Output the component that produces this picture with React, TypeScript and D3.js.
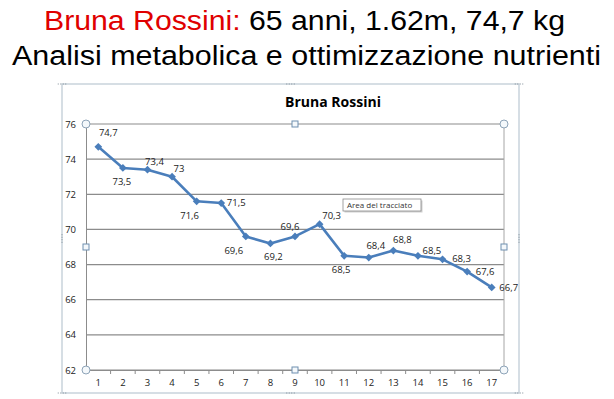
import { useEffect, useRef } from "react"
import * as d3 from "d3"

// weekly weigh-ins
const sessions = ["1", "2", "3", "4", "5", "6", "7", "8", "9", "10", "11", "12", "13", "14", "15", "16", "17"]
const weights = [74.7, 73.5, 73.4, 73, 71.6, 71.5, 69.6, 69.2, 69.6, 70.3, 68.5, 68.4, 68.8, 68.5, 68.3, 67.6, 66.7]
const yTicks = [62, 64, 66, 68, 70, 72, 74, 76]

// where Excel put each data label, relative to its point
const labelShift = [
  [10, -14], [-1, 14], [7, -8], [7, -8], [-7, 14], [15, 0], [-12, 14], [3, 13], [-5, -10],
  [12, -8], [-3, 14], [7, -12], [9, -11], [14, -5], [19, -1], [18, 0], [17, 0],
]

const W = 614
const H = 399
const font = "'Liberation Sans', Arial, sans-serif"
const labelFont = "'Open Sans', 'Liberation Sans', sans-serif"

const App = () => {
  const svgRef = useRef<SVGSVGElement>(null)

  useEffect(() => {
    const svg = d3.select(svgRef.current)
    svg.selectAll("*").remove()

    // slide heading
    const h1 = svg.append("text")
      .attr("x", 44).attr("y", 30)
      .attr("textLength", 521).attr("lengthAdjust", "spacingAndGlyphs")
      .style("font-family", font).style("font-size", "27px")
    h1.append("tspan").attr("fill", "#e00000").text("Bruna Rossini:")
    h1.append("tspan").attr("fill", "#000").text(" 65 anni, 1.62m, 74,7 kg")

    svg.append("text")
      .attr("x", 12).attr("y", 65)
      .attr("textLength", 589).attr("lengthAdjust", "spacingAndGlyphs")
      .style("font-family", font).style("font-size", "27px")
      .attr("fill", "#000")
      .text("Analisi metabolica e ottimizzazione nutrienti")

    // chart area frame
    const frame = { left: 62, top: 84, right: 519, bottom: 393 }
    svg.append("rect")
      .attr("x", frame.left).attr("y", frame.top)
      .attr("width", frame.right - frame.left).attr("height", frame.bottom - frame.top)
      .attr("fill", "#fff").attr("stroke", "#c9d3dc").attr("stroke-width", 1.5)

    const dots = [
      [frame.left, frame.top], [(frame.left + frame.right) / 2, frame.top], [frame.right, frame.top],
      [frame.left, (frame.top + frame.bottom) / 2], [frame.right, (frame.top + frame.bottom) / 2],
      [frame.left, frame.bottom], [(frame.left + frame.right) / 2, frame.bottom], [frame.right, frame.bottom],
    ]
    dots.forEach(([cx, cy]) => {
      for (let i = -1.5; i <= 1.5; i++) {
        const horiz = cy === frame.top || cy === frame.bottom
        svg.append("rect")
          .attr("x", horiz ? cx + i * 2.5 - 0.5 : cx - 0.5)
          .attr("y", horiz ? cy - 0.5 : cy + i * 2.5 - 0.5)
          .attr("width", 1).attr("height", 1)
          .attr("fill", "#7f8c99")
      }
    })

    svg.append("text")
      .attr("x", 333).attr("y", 107)
      .attr("text-anchor", "middle")
      .style("font-family", labelFont).style("font-size", "14px").style("font-weight", "bold")
      .attr("fill", "#000")
      .text("Bruna Rossini")

    const plot = { left: 86, top: 124, right: 504, bottom: 370 }
    const x = d3.scaleBand().domain(sessions).range([plot.left, plot.right]).padding(0)
    const y = d3.scaleLinear().domain([62, 76]).range([plot.bottom, plot.top])
    const cx = (s: string) => (x(s) ?? 0) + x.bandwidth() / 2

    // gridlines
    svg.append("g")
      .selectAll("line")
      .data(yTicks)
      .join("line")
      .attr("x1", plot.left).attr("x2", plot.right)
      .attr("y1", (d) => y(d)).attr("y2", (d) => y(d))
      .attr("stroke", "#8c8c8c").attr("stroke-width", 1.2)

    // right edge of plot area
    svg.append("line")
      .attr("x1", plot.right).attr("x2", plot.right)
      .attr("y1", plot.top).attr("y2", plot.bottom)
      .attr("stroke", "#a6a6a6").attr("stroke-width", 1)

    // y axis
    const yAxis = svg.append("g")
      .attr("transform", `translate(${plot.left},0)`)
      .call(d3.axisLeft(y).tickValues(yTicks).tickSize(0).tickPadding(10))
    yAxis.select(".domain").attr("stroke", "#8c8c8c")
    yAxis.selectAll("text")
      .style("font-family", labelFont).style("font-size", "9.5px").attr("fill", "#222")

    // x axis
    const xAxis = svg.append("g")
      .attr("transform", `translate(0,${plot.bottom})`)
      .call(d3.axisBottom(x).tickSize(0).tickPadding(9))
    xAxis.select(".domain").attr("stroke", "#8c8c8c")
    xAxis.selectAll("text")
      .style("font-family", labelFont).style("font-size", "9.5px").attr("fill", "#222")
    xAxis.selectAll("line.sep")
      .data(sessions)
      .join("line")
      .attr("class", "sep")
      .attr("x1", (d, i) => plot.left + (i + 1) * x.bandwidth())
      .attr("x2", (d, i) => plot.left + (i + 1) * x.bandwidth())
      .attr("y1", 0).attr("y2", 4)
      .attr("stroke", "#8c8c8c")

    // series
    const pts = weights.map((v, i) => ({ s: sessions[i], v, i }))
    const line = d3.line<{ s: string; v: number }>().x((d) => cx(d.s)).y((d) => y(d.v))
    svg.append("path")
      .datum(pts)
      .attr("d", line)
      .attr("fill", "none")
      .attr("stroke", "#4a7ebb")
      .attr("stroke-width", 2.6)
      .attr("stroke-linejoin", "round")

    const diamond = d3.symbol().type(d3.symbolSquare).size(30)
    svg.append("g")
      .selectAll("path")
      .data(pts)
      .join("path")
      .attr("d", diamond)
      .attr("transform", (d) => `translate(${cx(d.s)},${y(d.v)}) rotate(45)`)
      .attr("fill", "#4a7ebb")

    svg.append("g")
      .selectAll("text")
      .data(pts)
      .join("text")
      .attr("x", (d) => cx(d.s) + labelShift[d.i][0])
      .attr("y", (d) => y(d.v) + labelShift[d.i][1])
      .attr("dy", "0.35em")
      .attr("text-anchor", "middle")
      .style("font-family", labelFont).style("font-size", "9.5px")
      .attr("fill", "#222")
      .text((d) => String(d.v).replace(".", ","))

    // selection handles on plot area
    const midX = (plot.left + plot.right) / 2
    const midY = (plot.top + plot.bottom) / 2
    const corners = [[plot.left, plot.top], [plot.right, plot.top], [plot.left, plot.bottom], [plot.right, plot.bottom]]
    corners.forEach(([hx, hy]) => {
      svg.append("circle").attr("cx", hx).attr("cy", hy).attr("r", 4)
        .attr("fill", "#f4f8fb").attr("stroke", "#8ea4b8").attr("stroke-width", 1)
    })
    const sides = [[midX, plot.top], [midX, plot.bottom], [plot.left, midY], [plot.right, midY]]
    sides.forEach(([hx, hy]) => {
      svg.append("rect").attr("x", hx - 3).attr("y", hy - 3).attr("width", 6).attr("height", 6)
        .attr("fill", "#f4f8fb").attr("stroke", "#6f8fb0").attr("stroke-width", 1)
    })

    // tooltip
    const tip = svg.append("g").attr("transform", "translate(343,199)")
    tip.append("rect").attr("x", 1.5).attr("y", 1.5).attr("width", 78).attr("height", 12).attr("fill", "#d0d0d0")
    tip.append("rect").attr("width", 78).attr("height", 12)
      .attr("fill", "#fff").attr("stroke", "#8a8a8a").attr("stroke-width", 0.8)
    tip.append("text").attr("x", 4).attr("y", 9)
      .style("font-family", labelFont).style("font-size", "8px").attr("fill", "#333")
      .text("Area del tracciato")
  }, [])

  return (
    <div style={{ position: "fixed", left: 0, top: 0 }}>
      <svg ref={svgRef} width={W} height={H} style={{ display: "block", background: "#fff" }}></svg>
    </div>
  )
}

export default App
